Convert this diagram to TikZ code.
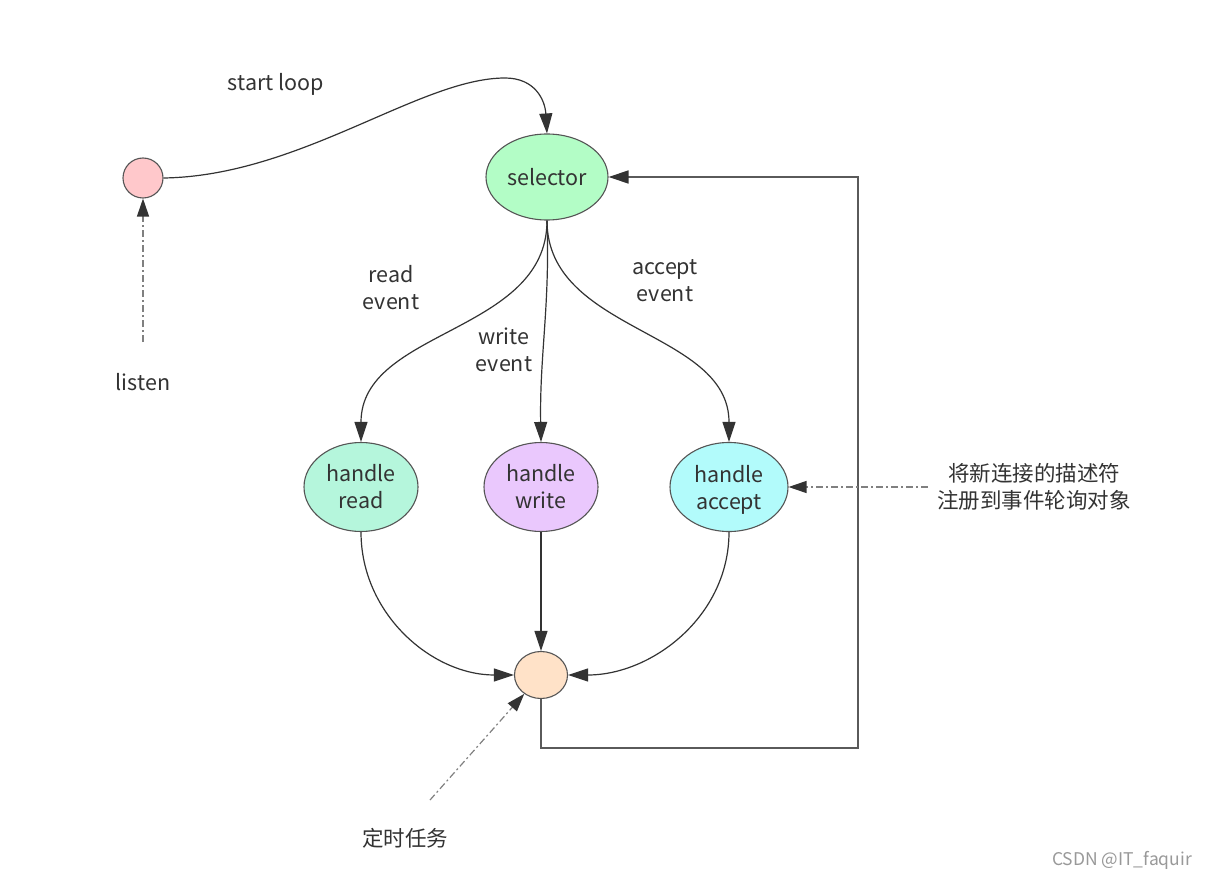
\documentclass[tikz,border=0pt]{standalone}
\usepackage{fontspec}
\setmainfont{Noto Sans CJK SC}
\usetikzlibrary{arrows.meta,shapes.geometric}
\definecolor{bord}{HTML}{555555}
\definecolor{txt}{HTML}{333333}
\definecolor{cpink}{HTML}{FFC8CB}
\definecolor{csel}{HTML}{B3FDC6}
\definecolor{cread}{HTML}{B5F6DC}
\definecolor{cwrite}{HTML}{EAC8FD}
\definecolor{cacc}{HTML}{B2FBFB}
\definecolor{corg}{HTML}{FFE2C8}
\definecolor{cline}{HTML}{333333}
\definecolor{cloop}{HTML}{5A5A5A}
\definecolor{cdd}{HTML}{808080}
\begin{document}
\begin{tikzpicture}[x=1pt,y=-1pt,
  font=\fontsize{21.5}{27}\selectfont,
  every node/.style={text=txt},
  st/.style={ellipse, draw=bord, line width=1.1pt, inner sep=0pt, align=center},
  tip/.style={-{Triangle[length=20pt,width=13pt,color=cline]}},
  conn/.style={tip, draw=cline, line width=1.2pt},
  loopline/.style={tip, draw=cloop, line width=1.6pt},
  dd/.style={-{Triangle[length=18pt,width=12pt,color=cline]}, draw=cdd, line width=1.2pt,
     dash pattern=on 7pt off 3pt on 2pt off 3pt},
  lbl/.style={align=center}]
\useasboundingbox (0,0) rectangle (1214,882);
\fill[white] (0,0) rectangle (1214,882);

% nodes
\node[st, fill=cpink, minimum width=40pt, minimum height=40pt] (pink) at (143,178) {};
\node[st, fill=csel, minimum width=122pt, minimum height=86pt] (sel) at (547,177) {selector};
\node[st, fill=cread, minimum width=114pt, minimum height=89pt] (hr) at (361,487) {handle\\read};
\node[st, fill=cwrite, minimum width=114pt, minimum height=89pt] (hw) at (541,487) {handle\\write};
\node[st, fill=cacc, minimum width=118pt, minimum height=89pt] (ha) at (729,487) {handle\\\raisebox{0pt}[\height][0pt]{accept}};
\node[st, fill=corg, minimum width=53pt, minimum height=47pt] (org) at (541,675) {};

% labels
\node[lbl] (lstart) at (276,84) {start loop};
\node[lbl] (listen) at (143,382) {listen};
\node[lbl] (lread) at (391,288) {read\\event};
\node[lbl] (lwrite) at (504,350) {write\\event};
\node[lbl] (lacc) at (665,281) {accept\\event};
\node[lbl] (reg) at (1034,487) {将新连接的描述符\\注册到事件轮询对象};
\node[lbl] (tm) at (405,838) {定时任务};
\node[font=\fontsize{17.5}{20}\selectfont, text=gray!80] (csdn) at (1122,860) {CSDN @IT\_faquir};

\coordinate (lsrc) at (143,342);
\coordinate (tmsrc) at (430,800);
\coordinate (c1) at (858,748);
\coordinate (peak) at (505,78);

% connectors
\draw[conn] (pink.east) .. controls (300,176) and (420,78) .. (peak)
   .. controls (535,78) and (545,100) .. (sel.north);
\draw[conn] (sel.south) to[out=-90,in=90] (hr.north);
\draw[conn] (sel.south) to[out=-88,in=91] (hw.north);
\draw[conn] (sel.south) to[out=-90,in=90] (ha.north);
\draw[conn] (hr.south) to[out=-90,in=180] (org.west);
\draw[conn] (hw.south) -- (org.north);
\draw[conn] (ha.south) to[out=-90,in=0] (org.east);
\draw[loopline] (org.south) |- (c1) |- (sel.east);

\draw[dd] (lsrc) -- (pink.south);
\draw[dd, shorten <=6pt] (reg.west) -- (ha.east);
\draw[dd] (tmsrc) -- (org);
\end{tikzpicture}
\end{document}
